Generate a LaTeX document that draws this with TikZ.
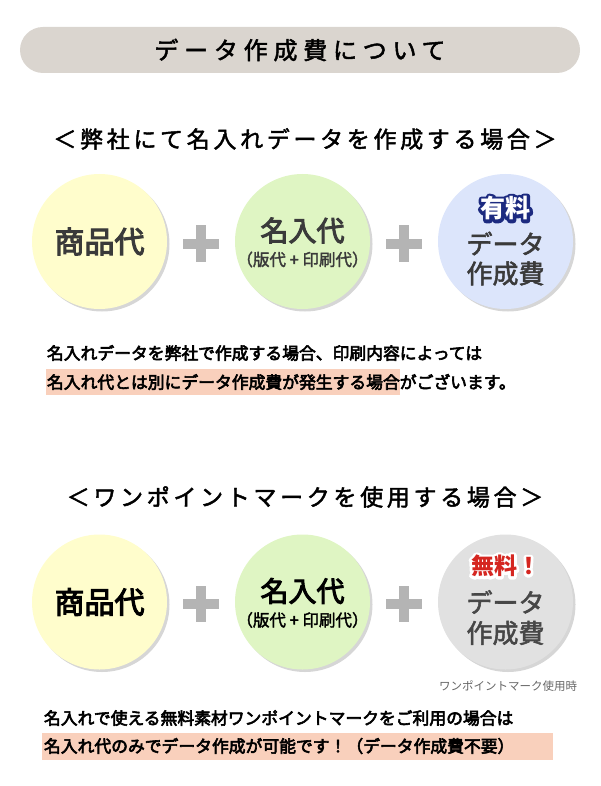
\documentclass[tikz,border=0pt]{standalone}
\usepackage{fontspec}
\setmainfont{Noto Sans CJK JP}
\newfontfamily\mediumfont{Noto Sans CJK JP}[FakeBold=2]
\newfontfamily\heavyfont{Noto Sans CJK JP}[FakeBold=3.5]
\newfontfamily\outlinefont{Noto Sans CJK JP}[FakeBold=24]
\usetikzlibrary{positioning, calc, shadows}

\definecolor{headerGray}{HTML}{DAD5CF}
\definecolor{goodsYellow}{HTML}{FFFDCC}
\definecolor{nameGreen}{HTML}{DFF5C3}
\definecolor{paidBlue}{HTML}{DCE5FB}
\definecolor{freeGray}{HTML}{E1E1E1}
\definecolor{markPink}{HTML}{F9D0BC}
\definecolor{plusGray}{HTML}{B4B4B4}
\definecolor{circleText}{HTML}{3A3A3A}
\definecolor{paidNavy}{HTML}{1C2A80}
\definecolor{freeRed}{HTML}{D52620}
\definecolor{noteGray}{HTML}{666666}

\begin{document}
\begin{tikzpicture}[x=1pt, y=-1pt, node distance=68pt,
  every node/.style={inner sep=0pt, outer sep=0pt},
  titleBar/.style={rectangle, fill=headerGray, rounded corners=23pt, minimum width=560pt, minimum height=46pt,
    font=\mediumfont\fontsize{24}{28}\selectfont\addfontfeature{LetterSpace=24}},
  caseTitle/.style={font=\mediumfont\fontsize{23}{27}\selectfont\addfontfeature{LetterSpace=16}},
  feeCircle/.style={circle, minimum size=135pt, drop shadow={shadow xshift=2.5pt, shadow yshift=-2.5pt, fill=black!16, opacity=1}},
  bigText/.style={font=\heavyfont\fontsize{30}{34}\selectfont, text=circleText},
  midText/.style={font=\mediumfont\fontsize{26}{30}\selectfont, text=circleText},
  smallText/.style={font=\mediumfont\fontsize{16.5}{19}\selectfont, text=circleText},
  bodyText/.style={font=\heavyfont\fontsize{16.8}{20}\selectfont, anchor=west},
  markBar/.style={fill=markPink}
]
\useasboundingbox (0,0) rectangle (600,786);

% title
\node (title) [titleBar] at (300,50) {データ作成費について};

% case 1
\node (caseOne) [caseTitle] at (305,139) {＜弊社にて名入れデータを作成する場合＞};

\node (goodsFeeA) [feeCircle, fill=goodsYellow] at (99.5,241.5) {};
\node (nameFeeA) [feeCircle, fill=nameGreen, right=of goodsFeeA] {};
\node (dataFeeA) [feeCircle, fill=paidBlue, right=of nameFeeA] {};

\node (goodsTextA) [bigText] at (goodsFeeA) {商品代};
\node (nameTextA) [bigText, font=\heavyfont\fontsize{28}{32}\selectfont] at ($(nameFeeA)+(0,-11)$) {名入代};
\node (nameNoteA) [smallText] at ($(nameFeeA)+(0,18)$) {（版代 + 印刷代）};
\begin{scope}[line join=round]
\node (paidOutline) [font=\outlinefont\fontsize{25}{28}\selectfont\bfseries, text=paidNavy] at ($(dataFeeA)+(0,-33)$) {有料};
\node (paidLabel) [font=\fontsize{25}{28}\selectfont\bfseries, text=white] at (paidOutline) {有料};
\end{scope}
\node (dataTextA) [midText] at ($(dataFeeA)+(0,2)$) {データ};
\node (costTextA) [midText] at ($(dataFeeA)+(0,32)$) {作成費};

% notes 1
\fill[markBar] (46,369) rectangle (400,395);
\node (noteOneA) [bodyText] at (47,353) {名入れデータを弊社で作成する場合、印刷内容によっては};
\node (noteOneB) [bodyText] at (47,382) {名入れ代とは別にデータ作成費が発生する場合がございます。};

% case 2
\node (caseTwo) [caseTitle] at (305,497) {＜ワンポイントマークを使用する場合＞};

\node (goodsFeeB) [feeCircle, fill=goodsYellow] at (99.5,602) {};
\node (nameFeeB) [feeCircle, fill=nameGreen, right=of goodsFeeB] {};
\node (dataFeeB) [feeCircle, fill=freeGray, right=of nameFeeB] {};

\node (goodsTextB) [bigText, text=black] at (goodsFeeB) {商品代};
\node (nameTextB) [bigText, font=\heavyfont\fontsize{28}{32}\selectfont, text=black] at ($(nameFeeB)+(0,-11)$) {名入代};
\node (nameNoteB) [smallText, text=black] at ($(nameFeeB)+(0,18)$) {（版代 + 印刷代）};
\begin{scope}[line join=round]
\node (freeOutline) [font=\outlinefont\fontsize{23}{26}\selectfont\bfseries, text=white] at ($(dataFeeB)+(0,-36)$) {無料！};
\node (freeLabel) [font=\fontsize{23}{26}\selectfont\bfseries, text=freeRed] at (freeOutline) {無料！};
\end{scope}
\node (dataTextB) [midText, text=black!72] at ($(dataFeeB)+(0,0)$) {データ};
\node (costTextB) [midText, text=black!72] at ($(dataFeeB)+(0,31)$) {作成費};
\node (markNote) [font=\fontsize{11.5}{14}\selectfont, text=noteGray] at (508,686) {ワンポイントマーク使用時};

% plus signs
\foreach \a/\b in {goodsFeeA/nameFeeA, nameFeeA/dataFeeA, goodsFeeB/nameFeeB, nameFeeB/dataFeeB} {
  \coordinate (plusMid) at ($(\a)!0.5!(\b)+(0,2)$);
  \fill[plusGray] ($(plusMid)+(-18,-5)$) rectangle ($(plusMid)+(18,5)$);
  \fill[plusGray] ($(plusMid)+(-5,-18)$) rectangle ($(plusMid)+(5,18)$);
}

% notes 2
\fill[markBar] (42,733) rectangle (553,760);
\node (noteTwoA) [bodyText] at (44,718) {名入れで使える無料素材ワンポイントマークをご利用の場合は};
\node (noteTwoB) [bodyText] at (44,746) {名入れ代のみでデータ作成が可能です！（データ作成費不要）};
\end{tikzpicture}
\end{document}
